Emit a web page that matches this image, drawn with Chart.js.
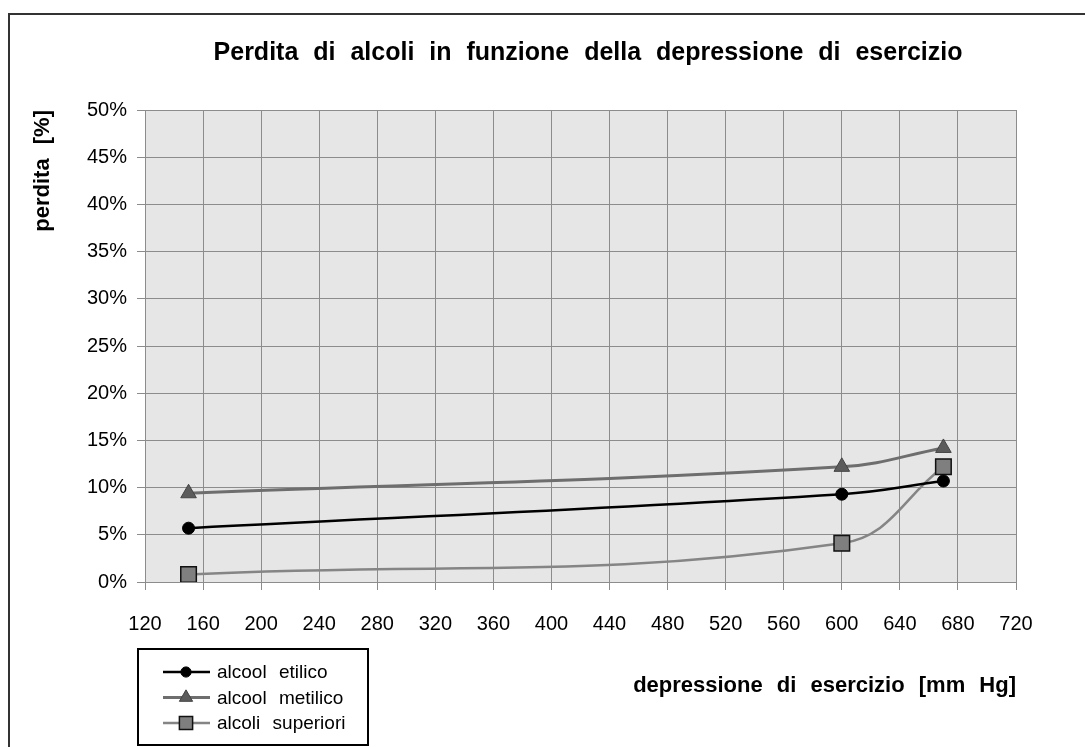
<!DOCTYPE html>
<html>
<head>
<meta charset="utf-8">
<title>Perdita di alcoli</title>
<script src="https://cdn.jsdelivr.net/npm/chart.js@4/dist/chart.umd.min.js"></script>
<style>
  body { margin: 0; background: #fff; }
  #wrap { width: 1085px; height: 747px; }
</style>
</head>
<body>
<div id="wrap"><canvas id="lossChart" width="1085" height="747"></canvas></div>
<script>
// depressione di esercizio [mm Hg]
const pressures = [150, 600, 670];
// perdita [%]
const etilico = [5.7, 9.3, 10.7];
const metilico = [9.4, 12.2, 14.2];
const superiori = [0.8, 4.1, 12.2];
const seriesNames = ["alcool etilico", "alcool metilico", "alcoli superiori"];

const FONT = "'Liberation Sans', Arial, sans-serif";

function toPoints(values) {
  return pressures.map((p, i) => ({ x: p, y: values[i] }));
}

// white page + the frame lines at top and left, plot background
const framePlugin = {
  id: "frame",
  afterLayout(chart) {
    // centre the title over the plot, not over the whole canvas
    if (chart.titleBlock) {
      chart.titleBlock.left = 160;
      chart.titleBlock.right = 1016;
    }
  },
  beforeDraw(chart) {
    const ctx = chart.ctx;
    ctx.wordSpacing = "8px";
    ctx.save();
    ctx.fillStyle = "#fff";
    ctx.fillRect(0, 0, chart.width, chart.height);
    const a = chart.chartArea;
    ctx.fillStyle = "#e6e6e6";
    ctx.fillRect(a.left, a.top, a.right - a.left, a.bottom - a.top);
    ctx.strokeStyle = "#333";
    ctx.lineWidth = 2;
    ctx.beginPath();
    ctx.moveTo(chart.width, 14);
    ctx.lineTo(9, 14);
    ctx.lineTo(9, chart.height);
    ctx.stroke();
    ctx.restore();
  }
};

// boxed legend down at the bottom left
const boxLegendPlugin = {
  id: "boxLegend",
  afterDraw(chart) {
    const ctx = chart.ctx;
    ctx.save();
    ctx.wordSpacing = "7px";
    ctx.fillStyle = "#fff";
    ctx.fillRect(138, 649, 230, 96);
    ctx.strokeStyle = "#000";
    ctx.lineWidth = 2;
    ctx.strokeRect(138, 649, 230, 96);
    chart.data.datasets.forEach((ds, i) => {
      const y = 672 + i * 25.5;
      ctx.strokeStyle = ds.borderColor;
      ctx.lineWidth = ds.borderWidth;
      ctx.beginPath();
      ctx.moveTo(163, y);
      ctx.lineTo(210, y);
      ctx.stroke();
      ctx.fillStyle = ds.pointBackgroundColor;
      ctx.strokeStyle = ds.pointBorderColor;
      ctx.lineWidth = ds.pointBorderWidth;
      Chart.helpers.drawPoint(ctx, {
        pointStyle: ds.pointStyle,
        radius: ds.pointRadius * 0.85,
        rotation: 0,
        borderWidth: ds.pointBorderWidth
      }, 186, y);
      ctx.fillStyle = "#000";
      ctx.font = "19px " + FONT;
      ctx.textBaseline = "middle";
      ctx.textAlign = "left";
      ctx.fillText(ds.label, 217, y + 1);
    });
    ctx.restore();
  }
};

const ctx = document.getElementById("lossChart").getContext("2d");
const chart = new Chart(ctx, {
  type: "line",
  data: {
    datasets: [
      {
        label: seriesNames[0],
        data: toPoints(etilico),
        borderColor: "#000",
        borderWidth: 2.5,
        pointStyle: "circle",
        pointRadius: 6,
        pointBackgroundColor: "#000",
        pointBorderColor: "#000",
        pointBorderWidth: 1,
        tension: 0.4
      },
      {
        label: seriesNames[1],
        data: toPoints(metilico),
        borderColor: "#6e6e6e",
        borderWidth: 3,
        pointStyle: "triangle",
        pointRadius: 9,
        pointBackgroundColor: "#5c5c5c",
        pointBorderColor: "#444",
        pointBorderWidth: 1,
        tension: 0.4
      },
      {
        label: seriesNames[2],
        data: toPoints(superiori),
        borderColor: "#858585",
        borderWidth: 2.5,
        pointStyle: "rect",
        pointRadius: 11,
        pointBackgroundColor: "#7f7f7f",
        pointBorderColor: "#111",
        pointBorderWidth: 1.5,
        tension: 0.4
      }
    ]
  },
  options: {
    responsive: false,
    animation: false,
    layout: { padding: { left: 9, right: 69, top: 0, bottom: 0 } },
    plugins: {
      legend: { display: false },
      tooltip: { enabled: false },
      title: {
        display: true,
        text: "Perdita di alcoli in funzione della depressione di esercizio",
        color: "#000",
        font: { family: FONT, size: 25, weight: "bold" },
        padding: { top: 38, bottom: 42 }
      }
    },
    scales: {
      x: {
        type: "linear",
        min: 120,
        max: 720,
        afterFit(scale) { scale.height = 165; },
        ticks: {
          stepSize: 40,
          color: "#000",
          padding: 22,
          maxRotation: 0,
          font: { family: FONT, size: 20 }
        },
        grid: { color: "#8c8c8c", lineWidth: 1, tickLength: 8 },
        border: { color: "#8c8c8c" },
        title: {
          display: true,
          text: "depressione di esercizio [mm Hg]",
          align: "end",
          color: "#000",
          font: { family: FONT, size: 22, weight: "bold" },
          padding: { top: 0, bottom: 48 }
        }
      },
      y: {
        min: 0,
        max: 50,
        afterFit(scale) { scale.width = 136; },
        ticks: {
          stepSize: 5,
          color: "#000",
          padding: 10,
          font: { family: FONT, size: 20 },
          callback: v => v + "%"
        },
        grid: { color: "#8c8c8c", lineWidth: 1, tickLength: 8 },
        border: { color: "#8c8c8c" },
        title: {
          display: true,
          text: "perdita [%]",
          align: "end",
          color: "#000",
          font: { family: FONT, size: 22, weight: "bold" },
          padding: { top: 21, bottom: 0 }
        }
      }
    }
  },
  plugins: [framePlugin, boxLegendPlugin]
});
</script>
</body>
</html>
